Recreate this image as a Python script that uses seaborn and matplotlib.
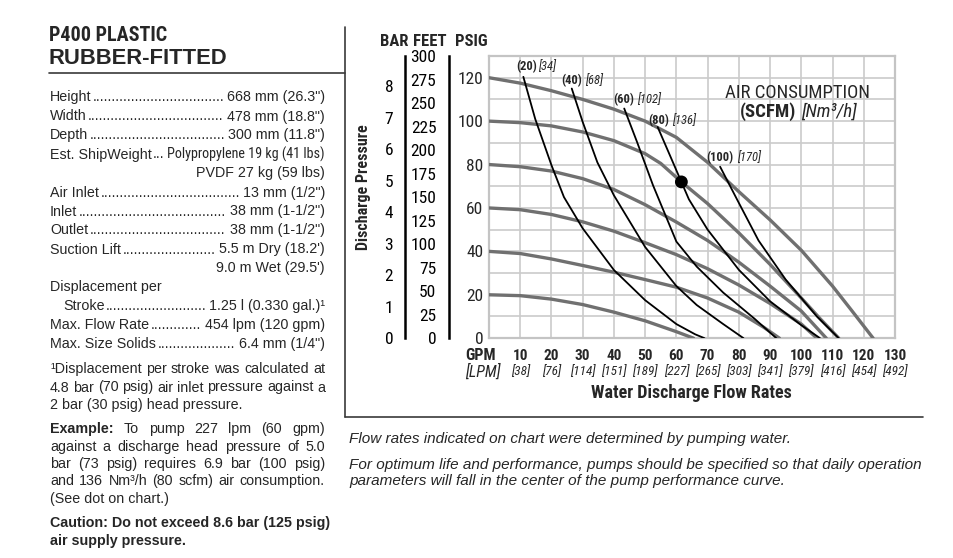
import os
import numpy as np
import pandas as pd
import matplotlib
matplotlib.use("Agg")
import matplotlib.pyplot as plt
import seaborn as sns
from matplotlib import font_manager as fm
from matplotlib.lines import Line2D

# ---------------- data ----------------
psig_ticks = [0, 20, 40, 60, 80, 100, 120]
bar_ticks = [0, 1, 2, 3, 4, 5, 6, 7, 8]
feet_ticks = [0, 25, 50, 75, 100, 125, 150, 175, 200, 225, 250, 275, 300]
gpm_ticks = [10, 20, 30, 40, 50, 60, 70, 80, 90, 100, 110, 120, 130]
lpm_labels = ["38", "76", "114", "151", "189", "227", "265", "303", "341", "379", "416", "454", "492"]

# air inlet pressure curves (grey): water flow GPM vs discharge PSIG
air_psig = [20, 40, 60, 80, 100, 120]
g20_gpm = [0, 10, 20, 30, 40, 50, 60, 65.5]
g20_psig = [20, 19.6, 18, 15.5, 12, 8, 3, 0]
g40_gpm = [0, 10, 20, 30, 40, 50, 60, 70, 80, 88, 93]
g40_psig = [40, 39, 36.5, 33.5, 30.4, 27, 23.5, 18.5, 12, 5, 0]
g60_gpm = [0, 10, 20, 30, 40, 50, 60, 70, 80, 90, 100, 105]
g60_psig = [60, 59.2, 57, 53.6, 49.3, 44, 38.5, 32, 24.5, 16, 6.5, 0]
g80_gpm = [0, 10, 20, 30, 40, 50, 60, 70, 80, 90, 100, 108]
g80_psig = [80, 79, 77, 73.5, 68.5, 61.5, 53.5, 45, 35, 24, 12.5, 0]
g100_gpm = [0, 10, 20, 30, 40, 50, 55, 61.6, 70, 80, 90, 100, 106, 112]
g100_psig = [100, 99.3, 97.8, 95, 91, 85, 80.5, 72, 62, 48.5, 34, 18.5, 9, 0]
g120_gpm = [0, 10, 20, 30, 40, 50, 60, 70, 80, 90, 100, 110, 116, 123]
g120_psig = [120, 117.5, 114, 110, 105.5, 100, 92.5, 81, 67.5, 54.5, 40.5, 24, 13, 0]
gray_gpm = [g20_gpm, g40_gpm, g60_gpm, g80_gpm, g100_gpm, g120_gpm]
gray_psig = [g20_psig, g40_psig, g60_psig, g80_psig, g100_psig, g120_psig]

# air consumption curves (black)
scfm = ["20", "40", "60", "80", "100"]
nm3h = ["34", "68", "102", "136", "170"]
c20_gpm = [11, 14.8, 20, 24, 30, 40, 50, 60, 66, 69]
c20_psig = [120.4, 101, 79.7, 65, 50.6, 31.4, 17.5, 6.5, 1.8, 0]
c40_gpm = [26.5, 30, 34.7, 40, 50, 60, 66.5, 75, 81.5]
c40_psig = [115, 99.6, 81, 65.8, 42, 24, 15.3, 6.5, 0]
c60_gpm = [43.3, 47.4, 52.5, 60, 66.5, 75, 85, 92]
c60_psig = [105.8, 90.4, 70.5, 44.5, 33, 21, 9, 0]
c80_gpm = [54, 58, 61.6, 64, 70, 80, 90, 100, 106]
c80_psig = [97.3, 84, 72, 64, 50, 31.5, 17, 6, 0]
c100_gpm = [74, 79.5, 86.3, 95, 105, 112]
c100_psig = [79, 63.7, 45, 27, 10, 0]
cons_gpm = [c20_gpm, c40_gpm, c60_gpm, c80_gpm, c100_gpm]
cons_psig = [c20_psig, c40_psig, c60_psig, c80_psig, c100_psig]

dot_gpm = [61.6]
dot_psig = [72]

# ---------------- fonts ----------------
sns.set_style("white")
plt.rcParams['font.family'] = ['Liberation Sans', 'DejaVu Sans']

patterns = ['robotocondensed', 'liberationsansnarrow', 'notosans-condensed', 'notosanscondensed',
            'opensans-condensed', 'opensans_condensed', 'opensanscondensed', 'dejavusanscondensed']
groups = {}
for f in fm.fontManager.ttflist:
    fn = os.path.basename(f.fname).lower()
    for p in patterns:
        if fn.startswith(p):
            rest = fn[len(p):]
            if any(k in rest for k in ['light', 'thin', 'medium', 'black', 'semi', 'extra', 'ultra', 'demi', 'heavy']):
                break
            bold = 'bold' in rest
            ital = ('italic' in rest) or ('oblique' in rest)
            groups.setdefault(p, {})[(bold, ital)] = f.fname
            break
COND = None
for p in patterns:
    g = groups.get(p)
    if g and (False, False) in g and (True, False) in g:
        COND = g
        break


def cfp(size, bold=False, italic=False):
    if COND is not None:
        fname = COND.get((bold, italic)) or COND.get((bold, False)) or COND.get((False, False))
        return fm.FontProperties(fname=fname, size=size)
    return fm.FontProperties(family=['Liberation Sans', 'DejaVu Sans'],
                             weight='bold' if bold else 'normal',
                             style='italic' if italic else 'normal', size=size * 0.85)


def bfp(size, bold=False, italic=False):
    return fm.FontProperties(family=['Liberation Sans', 'DejaVu Sans'],
                             weight='bold' if bold else 'normal',
                             style='italic' if italic else 'normal', size=size)


# ---------------- figure ----------------
W, H = 954, 558
fig = plt.figure(figsize=(W / 100, H / 100), dpi=100)
fig.patch.set_facecolor('white')


def fx(x):
    return x / W


def fy(y):
    return 1 - y / H


X0, X1, Y0, Y1 = 489, 895, 338.2, 56
ax = fig.add_axes([fx(X0), fy(Y0), (X1 - X0) / W, (Y0 - Y1) / H])
ax.set_xlim(0, 130)
ax.set_ylim(0, 130)


def xpx(x):
    return (x - X0) / ((X1 - X0) / 130)


def ypx(y):
    return (Y0 - y) / ((Y0 - Y1) / 130)


gray_df = pd.concat([pd.DataFrame({'gpm': g, 'psig': p, 'curve': f'{a} psig'})
                     for a, g, p in zip(air_psig, gray_gpm, gray_psig)], ignore_index=True)
cons_df = pd.concat([pd.DataFrame({'gpm': g, 'psig': p, 'curve': f'{s} scfm'})
                     for s, g, p in zip(scfm, cons_gpm, cons_psig)], ignore_index=True)

sns.lineplot(data=gray_df, x='gpm', y='psig', units='curve', estimator=None, sort=False,
             color='#707070', lw=2.4, ax=ax, legend=False, zorder=3)
sns.lineplot(data=cons_df, x='gpm', y='psig', units='curve', estimator=None, sort=False,
             color='black', lw=1.3, ax=ax, legend=False, zorder=4)
sns.scatterplot(x=dot_gpm, y=dot_psig, color='black', s=85, edgecolor='none', ax=ax, zorder=6, legend=False)

ax.set_xlabel('')
ax.set_ylabel('')
ax.set_xticks(np.arange(0, 131, 10))
ax.set_yticks(np.arange(0, 131, 10))
ax.set_xticklabels([])
ax.set_yticklabels([str(v) if v in psig_ticks else '' for v in range(0, 131, 10)])
ax.grid(True, color='#cbcbcb', lw=1.2)
ax.set_axisbelow(True)
ax.tick_params(axis='both', length=0)
ax.tick_params(axis='y', pad=4)
for lbl in ax.get_yticklabels():
    lbl.set_fontproperties(cfp(12.5))
for s in ax.spines.values():
    s.set_color('#c4c4c4')
    s.set_linewidth(1.6)

# BAR axis
axb = fig.add_axes([fx(405), fy(Y0), 0.0005, (Y0 - Y1) / H])
axb.set_ylim(0, 130 / 14.5038)
axb.set_yticks(bar_ticks)
axb.set_yticklabels([str(v) for v in bar_ticks])
axb.set_xticks([])
axb.patch.set_alpha(0)
for k in ['top', 'right', 'bottom']:
    axb.spines[k].set_visible(False)
axb.spines['left'].set_linewidth(1.8)
axb.spines['left'].set_color('black')
axb.tick_params(axis='y', direction='out', length=6.5, width=1.6, pad=2, colors='black')
for lbl in axb.get_yticklabels():
    lbl.set_fontproperties(cfp(12.5))

# FEET axis
axf = fig.add_axes([fx(449), fy(Y0), 0.0005, (Y0 - Y1) / H])
axf.set_ylim(0, 130 / 0.43353)
axf.set_yticks(feet_ticks)
axf.set_yticklabels([str(v) for v in feet_ticks])
axf.set_xticks([])
axf.patch.set_alpha(0)
for k in ['top', 'right', 'bottom']:
    axf.spines[k].set_visible(False)
axf.spines['left'].set_linewidth(1.8)
axf.spines['left'].set_color('black')
axf.tick_params(axis='y', direction='out', length=7, width=1.6, pad=2, colors='black')
for lbl in axf.get_yticklabels():
    lbl.set_fontproperties(cfp(12.5))

# headers
fig.text(fx(394), fy(41), 'BAR', fontproperties=cfp(12, bold=True), ha='center', va='center')
fig.text(fx(430), fy(41), 'FEET', fontproperties=cfp(12, bold=True), ha='center', va='center')
fig.text(fx(471), fy(41), 'PSIG', fontproperties=cfp(12, bold=True), ha='center', va='center')
fig.text(fx(364), fy(187), 'Discharge Pressure', fontproperties=cfp(11.5, bold=True),
         ha='center', va='center', rotation=90)

# x labels
for g, l in zip(gpm_ticks, lpm_labels):
    ax.text(g, ypx(356), str(g), fontproperties=cfp(11, bold=True), ha='center', va='center', clip_on=False)
    ax.text(g, ypx(371.5), f'[{l}]', fontproperties=cfp(9.5, italic=True), ha='center', va='center', clip_on=False)
ax.text(xpx(481), ypx(356), 'GPM', fontproperties=cfp(11.5, bold=True), ha='center', va='center', clip_on=False)
ax.text(xpx(483), ypx(371.5), '[LPM]', fontproperties=cfp(11.5, italic=True), ha='center', va='center', clip_on=False)
ax.text(xpx(691), ypx(393), 'Water Discharge Flow Rates', fontproperties=cfp(13, bold=True),
        ha='center', va='center', clip_on=False)

# curve labels
lab_bold_x = [516.7, 561, 613, 648, 706.7]
lab_ital_x = [538.5, 585, 637, 672, 736.7]
lab_y = [67, 80.3, 99.7, 120.3, 158]
for s, n, xb, xi, yy in zip(scfm, nm3h, lab_bold_x, lab_ital_x, lab_y):
    ax.text(xpx(xb), ypx(yy), f'({s})', fontproperties=cfp(9, bold=True), ha='left', va='center', zorder=7)
    ax.text(xpx(xi), ypx(yy), f'[{n}]', fontproperties=cfp(9, italic=True), ha='left', va='center', zorder=7)

ax.text(xpx(798), ypx(93), 'AIR CONSUMPTION', fontproperties=cfp(13.5), ha='center', va='center', zorder=7)
ax.text(xpx(796), ypx(111.5), '(SCFM)', fontproperties=cfp(13.5, bold=True), ha='right', va='center', zorder=7)
ax.text(xpx(801), ypx(111.5), '[Nm³/h]', fontproperties=cfp(13.5, italic=True), ha='left', va='center', zorder=7)

# ---------------- frame lines ----------------
line_col = '#3a3a3a'
fig.add_artist(Line2D([fx(345), fx(345)], [fy(27), fy(417)], color=line_col, lw=1.2))
fig.add_artist(Line2D([fx(49), fx(345)], [fy(73), fy(73)], color=line_col, lw=1.2))
fig.add_artist(Line2D([fx(345), fx(923)], [fy(417), fy(417)], color=line_col, lw=1.2))

# ---------------- left panel ----------------
fig.text(fx(49), fy(35.5), 'P400 PLASTIC', fontproperties=cfp(14.5, bold=True), ha='left', va='center')
fig.text(fx(49), fy(58), 'RUBBER-FITTED', fontproperties=bfp(15.8, bold=True), ha='left', va='center')

renderer = fig.canvas.get_renderer()
BODY = 10.3
body = bfp(BODY)
body_b = bfp(BODY, bold=True)


def dot_width(fp):
    t = fig.text(0, 0, '.' * 40, fontproperties=fp)
    w = t.get_window_extent(renderer).width / 40
    t.remove()
    return w


def leader(y, label, value, lx=50, rx=325, min_dots=3, narrow=False):
    fp = bfp(BODY)
    t1 = fig.text(fx(lx), fy(y), label, fontproperties=fp, ha='left', va='center')
    b1 = t1.get_window_extent(renderer)
    dw = dot_width(fp)
    gap = 1.5
    size = BODY + (1.0 if narrow else 0.0)
    while True:
        fpv = cfp(size) if narrow else bfp(size)
        t2 = fig.text(fx(rx), fy(y), value, fontproperties=fpv, ha='right', va='center')
        b2 = t2.get_window_extent(renderer)
        n = int((b2.x0 - b1.x1 - 2 * gap) / dw)
        if n >= min_dots or size < 7:
            break
        t2.remove()
        size -= 0.1
    if n > 0:
        fig.text((b1.x1 + gap) / W, fy(y), '.' * n, fontproperties=fp, ha='left', va='center')


def justify(y, words, fonts, lx=50, rx=325):
    ts = [fig.text(0, fy(y), w, fontproperties=f, ha='left', va='center') for w, f in zip(words, fonts)]
    ws = [t.get_window_extent(renderer).width for t in ts]
    gap = (rx - lx - sum(ws)) / (len(words) - 1)
    x = lx
    for t, w in zip(ts, ws):
        t.set_x(x / W)
        x += w + gap


rows = [
    (97.3, 'Height', '668 mm (26.3")'),
    (116.5, 'Width', '478 mm (18.8")'),
    (135.5, 'Depth', '300 mm (11.8")'),
    (192.5, 'Air Inlet', '13 mm (1/2")'),
    (211.5, 'Inlet', '38 mm (1-1/2")'),
    (230.5, 'Outlet', '38 mm (1-1/2")'),
    (249.5, 'Suction Lift', '5.5 m Dry (18.2\')'),
    (325.3, 'Max. Flow Rate', '454 lpm (120 gpm)'),
    (344, 'Max. Size Solids', '6.4 mm (1/4")'),
]
for y, a, b in rows:
    leader(y, a, b)
leader(154.5, 'Est. ShipWeight', 'Polypropylene 19 kg (41 lbs)', narrow=True)
leader(306, 'Stroke', '1.25 l (0.330 gal.)¹', lx=63)
fig.text(fx(325), fy(173.5), 'PVDF 27 kg (59 lbs)', fontproperties=body, ha='right', va='center')
fig.text(fx(325), fy(268.3), "9.0 m Wet (29.5')", fontproperties=body, ha='right', va='center')
fig.text(fx(50), fy(287.3), 'Displacement per', fontproperties=body, ha='left', va='center')

foot1 = '¹Displacement per stroke was calculated at'.split()
foot2 = '4.8 bar (70 psig) air inlet pressure against a'.split()
justify(369.3, foot1, [body] * len(foot1))
justify(387.5, foot2, [body] * len(foot2))
fig.text(fx(50), fy(405), '2 bar (30 psig) head pressure.', fontproperties=body, ha='left', va='center')

ex1 = ['Example:', 'To', 'pump', '227', 'lpm', '(60', 'gpm)']
justify(429.3, ex1, [body_b] + [body] * 6)
for y, line in [(446.7, 'against a discharge head pressure of 5.0'),
                (464, 'bar (73 psig) requires 6.9 bar (100 psig)'),
                (481.3, 'and 136 Nm³/h (80 scfm) air consumption.')]:
    w = line.split()
    justify(y, w, [body] * len(w))
fig.text(fx(50), fy(498.7), '(See dot on chart.)', fontproperties=body, ha='left', va='center')
fig.text(fx(50), fy(523.3), 'Caution: Do not exceed 8.6 bar (125 psig)', fontproperties=body_b, ha='left', va='center')
fig.text(fx(50), fy(540.5), 'air supply pressure.', fontproperties=body_b, ha='left', va='center')

# ---------------- notes under chart ----------------
note = bfp(11.0, italic=True)
fig.text(fx(349), fy(438.5), 'Flow rates indicated on chart were determined by pumping water.',
         fontproperties=note, ha='left', va='center')
fig.text(fx(349), fy(464.5), 'For optimum life and performance, pumps should be specified so that daily operation',
         fontproperties=note, ha='left', va='center')
fig.text(fx(349), fy(481.5), 'parameters will fall in the center of the pump performance curve.',
         fontproperties=note, ha='left', va='center')

fig.savefig('out.png', dpi=100, facecolor='white')
